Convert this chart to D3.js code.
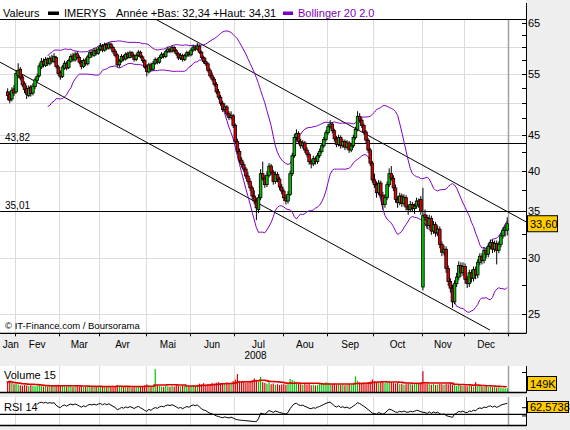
<!DOCTYPE html>
<html><head><meta charset="utf-8">
<script src="https://cdn.jsdelivr.net/npm/d3@7"></script>
<style>
body{margin:0;background:#eeeeee;}
svg{display:block;font-family:"Liberation Sans",Arial,sans-serif;}
</style>
</head><body>
<svg id="c" width="570" height="430"></svg>
<script>
// ---------------- DATA ----------------
const monthLabels = ["Jan","Fev","Mar","Avr","Mai","Jun","Jul","Aou","Sep","Oct","Nov","Dec"];
const monthTradingDays = [4,21,19,22,21,21,23,21,22,23,20,21];
const yearLabel = "2008";
const priceTicks = [65,55,45,40,35,30,25];
const priceMinorTicks = [65,62.5,60,57.5,55,52.5,50,47.5,45,42.5,40,37.5,35,32.5,30,27.5,25];
const priceGrid = [60,55,50,45,40,35,30,25];
const levels = [43.82, 35.01];
const rsiLast = 62.5738;
const rsiLevel = 30;
const rsiTicks = [50,25];
const volTicks = [750];

const open = [51.8,51.4,50.6,52.3,
51.8,54.6,55.8,54.4,53.2,52.4,51.2,52.6,51.6,52.7,53.8,54.6,56.2,57.3,56.5,57.7,56.8,57.9,57.2,58.0,56.2,
55.2,54.5,56.0,56.9,56.1,57.3,58.3,57.5,58.7,58.0,57.1,56.3,57.5,56.8,58.0,59.0,58.4,59.4,58.8,
59.5,60.2,59.4,60.5,59.8,60.6,59.9,59.2,58.5,56.6,57.3,58.2,57.7,58.7,58.0,58.9,58.3,57.6,58.4,59.0,58.1,57.4,
56.3,55.3,56.6,55.8,56.9,57.6,57.1,58.0,58.6,58.2,59.1,59.6,59.2,59.9,59.3,58.7,57.9,58.4,57.6,58.3,58.9,
58.5,59.4,60.0,59.6,60.2,59.0,58.0,57.2,56.8,55.6,54.6,54.0,53.1,51.8,50.9,49.9,48.9,49.3,48.2,47.6,47.9,
46.4,44.0,42.6,41.4,40.8,40.2,39.3,38.6,37.8,36.8,36.2,35.2,36.6,39.6,39.0,38.2,39.4,40.6,39.8,38.6,39.5,38.9,37.9,
37.4,36.6,36.2,37.0,39.6,42.0,44.6,45.2,44.0,43.4,43.8,42.8,42.2,41.2,40.9,41.6,41.2,42.0,42.6,43.4,44.3,
45.3,46.2,46.6,45.6,44.4,43.6,44.6,43.4,44.0,43.2,43.8,42.8,43.4,44.6,45.8,47.8,47.2,46.4,45.4,44.2,42.8,41.0,
38.8,38.2,37.2,38.4,36.9,35.8,36.6,38.2,39.6,39.0,37.8,36.4,36.0,36.8,35.9,36.6,35.5,35.2,35.8,35.3,35.6,36.2,36.4,
27.3,34.6,34.3,33.4,34.2,32.8,33.5,32.6,33.0,31.4,30.6,30.9,29.0,27.8,27.2,26.0,27.6,28.2,29.3,28.6,
29.2,28.0,27.6,28.6,28.1,28.9,28.4,29.6,30.2,29.8,30.8,30.4,31.2,31.6,30.9,31.5,30.8,31.4,32.3,32.9,32.9];

const high = [52.4,51.9,52.6,53.0,
55.6,56.9,56.2,54.9,53.6,52.9,52.9,53.0,53.3,54.3,55.0,56.9,57.9,57.8,58.1,58.0,58.3,58.5,58.8,58.3,56.6,
55.6,56.6,57.4,57.3,57.8,58.7,58.9,59.1,59.2,58.4,57.5,57.8,57.9,58.5,59.4,59.5,59.8,59.9,60.1,
60.8,60.6,60.9,60.8,61.0,60.9,60.3,59.6,58.8,57.7,58.6,58.5,59.0,59.1,59.3,59.2,58.6,58.8,59.4,59.3,58.4,57.7,
56.7,57.0,57.0,57.3,58.0,57.9,58.4,59.0,58.9,59.5,60.1,59.9,60.3,60.2,59.6,59.0,58.8,58.7,58.7,59.3,59.2,
59.8,60.5,60.3,60.8,60.5,59.3,58.3,57.9,57.1,56.0,55.2,54.4,53.5,52.3,51.3,50.3,49.9,49.6,48.6,48.6,48.2,
46.7,44.4,43.0,41.8,41.2,40.5,39.8,39.0,38.1,37.5,36.6,37.0,40.2,41.2,39.4,39.9,41.0,40.9,40.1,39.9,39.8,39.2,38.3,
37.7,37.0,37.4,40.0,42.4,45.1,45.8,45.5,44.4,44.2,44.1,43.2,42.5,41.5,42.0,41.9,42.4,43.0,43.8,44.7,45.7,
46.6,47.2,46.9,45.9,44.8,45.0,44.9,44.4,44.3,44.2,44.1,43.8,45.0,46.2,48.6,48.3,47.6,46.7,45.7,44.5,43.1,41.3,
39.6,38.6,38.8,38.7,37.3,37.0,38.6,40.3,40.6,39.4,38.2,36.8,37.2,37.1,37.0,36.9,35.8,36.2,36.1,35.9,36.6,36.5,36.8,
37.8,35.2,34.6,34.6,34.5,33.9,33.8,33.4,33.3,31.7,31.3,31.2,29.3,28.1,27.5,27.9,28.6,29.7,29.6,29.6,
29.5,28.3,28.9,28.9,29.2,29.2,29.9,30.5,30.5,31.1,31.1,31.5,31.9,31.9,31.8,31.8,31.7,32.6,33.2,33.5,34.31];

const low = [50.4,49.9,50.2,51.1,
51.5,54.2,53.8,52.6,51.6,50.6,50.9,51.0,51.2,52.3,53.3,54.3,55.8,56.1,56.2,56.4,56.5,56.9,56.9,55.9,54.6,
53.9,54.2,55.7,55.6,55.8,57.0,57.2,57.2,57.7,56.7,55.8,56.0,56.4,56.5,57.8,58.0,58.1,58.4,58.5,
59.2,59.0,59.1,59.4,59.5,59.5,58.7,58.0,56.2,56.1,57.0,57.3,57.4,57.7,57.8,57.9,57.2,57.3,58.1,57.8,57.0,55.9,
54.5,55.0,55.4,55.5,56.6,56.7,56.8,57.7,57.8,57.9,58.8,58.8,58.9,58.9,58.3,57.5,57.5,57.2,57.3,58.0,58.1,
58.2,59.1,59.2,59.3,58.7,57.6,56.8,56.4,55.2,54.2,53.6,52.7,51.4,50.5,49.5,48.5,48.5,47.8,47.2,47.3,46.0,
43.6,42.2,41.0,40.4,39.8,38.9,38.2,37.4,36.4,35.8,34.0,34.8,36.3,38.7,37.8,37.9,39.1,39.4,38.2,38.3,38.5,37.5,37.0,
36.2,35.8,35.9,36.8,39.3,41.7,44.2,43.6,43.0,43.0,42.4,41.8,40.8,40.3,40.6,40.8,40.9,41.7,42.3,43.1,44.0,
45.0,45.9,45.2,44.0,43.2,43.3,43.0,43.1,42.8,42.9,42.4,42.5,43.1,44.3,45.5,46.8,46.0,45.0,43.8,42.4,40.6,38.4,
37.8,36.6,36.9,36.5,35.2,35.4,36.3,37.9,38.7,37.4,36.0,35.4,35.7,35.5,35.6,35.1,34.6,34.9,34.9,34.7,35.3,35.4,34.6,
27.0,33.9,33.0,33.1,32.4,32.5,32.2,32.3,31.0,30.2,30.3,28.6,27.4,26.8,25.5,25.8,27.3,27.9,28.2,28.3,
27.6,27.2,27.3,27.7,27.8,28.0,28.1,29.3,29.4,29.5,30.0,30.1,30.9,30.5,30.6,29.4,30.5,31.1,32.0,32.2,32.34];

const close = [51.2,50.4,52.0,51.6,
55.0,55.6,54.2,53.0,52.2,51.4,52.4,51.5,52.8,53.9,54.5,56.4,57.2,56.6,57.6,56.9,57.8,57.3,58.2,56.3,55.0,
54.4,56.2,56.9,56.0,57.4,58.2,57.6,58.6,58.0,57.1,56.3,57.4,56.8,58.1,58.9,58.5,59.3,58.8,59.6,
60.2,59.4,60.4,59.8,60.6,59.9,59.1,58.4,56.6,57.3,58.2,57.7,58.6,58.0,58.9,58.3,57.6,58.4,59.0,58.1,57.4,56.2,
55.4,56.6,55.8,56.9,57.6,57.1,58.0,58.6,58.2,59.1,59.6,59.2,59.9,59.3,58.7,57.9,58.4,57.6,58.3,58.9,58.5,
59.4,60.0,59.6,60.2,59.0,58.0,57.2,56.8,55.6,54.6,54.0,53.1,51.8,50.9,49.9,48.9,49.3,48.2,47.6,47.9,46.4,
44.0,42.6,41.4,40.8,40.2,39.3,38.6,37.8,36.8,36.2,35.4,36.6,39.6,39.0,38.2,39.4,40.6,39.8,38.6,39.5,38.9,37.9,37.4,
36.6,36.2,37.0,39.6,42.0,44.6,45.2,44.0,43.4,43.8,42.8,42.2,41.2,40.9,41.6,41.2,42.0,42.6,43.4,44.3,45.3,
46.2,46.6,45.6,44.4,43.6,44.6,43.4,44.0,43.2,43.8,42.8,43.4,44.6,45.8,47.8,47.2,46.4,45.4,44.2,42.8,41.0,38.8,
38.2,37.2,38.4,36.9,35.8,36.6,38.2,39.6,39.0,37.8,36.4,36.0,36.8,35.9,36.6,35.5,35.2,35.8,35.3,35.6,36.2,35.8,35.0,
34.5,34.3,33.4,34.2,32.8,33.5,32.6,33.0,31.4,30.6,30.9,29.0,27.8,27.2,26.0,27.6,28.2,29.3,28.6,29.2,
28.0,27.6,28.6,28.1,28.9,28.4,29.6,30.2,29.8,30.8,30.4,31.2,31.6,30.9,31.5,30.8,31.4,32.3,32.9,33.2,33.6];

// volume, thousands of shares
const volume = [380,420,350,300,
330,290,260,240,270,250,230,260,240,220,250,270,230,210,240,220,250,230,260,240,280,
270,240,220,210,230,250,200,220,240,210,230,190,210,230,200,220,190,210,230,
220,200,230,190,240,210,200,230,270,220,200,190,210,230,200,180,210,190,220,200,230,260,
290,250,230,220,880,260,230,210,200,240,220,200,230,210,260,240,220,250,230,210,240,
230,260,240,280,320,300,340,280,310,290,350,330,360,380,340,310,330,360,310,340,420,
480,690,430,400,380,360,420,390,450,520,470,410,580,380,350,320,380,300,330,280,300,270,290,
300,280,320,500,460,420,380,340,300,280,320,290,310,260,280,250,270,300,320,340,380,
360,330,300,320,280,300,270,290,260,280,300,270,320,600,430,380,340,360,320,380,400,480,
420,380,360,400,380,340,360,420,380,350,330,360,300,320,280,300,340,310,290,320,350,330,360,
800,340,320,300,280,310,270,290,320,300,280,330,300,350,290,260,240,270,250,230,
240,220,260,230,210,380,250,230,210,200,230,190,210,180,200,170,190,160,150,140,149];

// trend lines [index, price]
const upperTrend = [[70, 65.8],[246, 33.8]];
const lowerTrend = [[-3.6, 57.1],[228.8, 23.7]];

// ---------------- CHART ----------------
const N = close.length;
const svg = d3.select("#c");
const fmt2 = v => d3.format(".2f")(v).replace(".", ",");
const PR = 526;            // right axis x
const MT = 19, MB = 333.3; // main panel top/bottom lines
const green = "#00c000", red = "#dd0000", purple = "#8000c0", gridC = "#dcdcdc";

const x = d3.scaleLinear().domain([0, N]).range([6.6, 508.3]);
const cx = i => x(i + 0.5);
const y = d3.scaleLog().domain([25, 65]).range([313.8, 22.7]);
const yV = d3.scaleLinear().domain([0, 1000]).range([392, 366]);
const yR = d3.scaleLinear().domain([0, 100]).range([424.2, 391.2]);

const bounds = [0];
monthTradingDays.forEach(d => bounds.push(bounds[bounds.length - 1] + d));

// panels
svg.append("rect").attr("x",0).attr("y",0).attr("width",PR).attr("height",MB).attr("fill","#fff");
svg.append("rect").attr("x",0).attr("y",366).attr("width",PR).attr("height",26).attr("fill","#fff");
svg.append("rect").attr("x",0).attr("y",397).attr("width",PR).attr("height",28).attr("fill","#fff");

// vertical grid in all panels
const vg = svg.append("g").attr("stroke", gridC).attr("stroke-width", 1);
bounds.slice(1, -1).forEach(b => {
  const xx = Math.round(x(b)) + 0.5;
  [[MT, MB], [366, 392], [397, 425]].forEach(([a, c]) =>
    vg.append("line").attr("x1",xx).attr("x2",xx).attr("y1",a).attr("y2",c));
});
// horizontal grid main
priceGrid.forEach(p => {
  const yy = Math.round(y(p)) + 0.5;
  svg.append("line").attr("x1",0).attr("x2",PR).attr("y1",yy).attr("y2",yy).attr("stroke",gridC);
});
// today line
const tx = Math.round(x(N)) + 0.5;
[[MT, MB], [366, 392], [397, 425]].forEach(([a, c]) =>
  svg.append("line").attr("x1",tx).attr("x2",tx).attr("y1",a).attr("y2",c).attr("stroke","#a0a0a0").attr("stroke-width",1.5));

// clip
svg.append("clipPath").attr("id","mc").append("rect").attr("x",0).attr("y",MT).attr("width",PR).attr("height",MB-MT);
const main = svg.append("g").attr("clip-path","url(#mc)");

// level lines
levels.forEach(l => {
  const yy = Math.round(y(l)) + 0.5;
  main.append("line").attr("x1",0).attr("x2",PR).attr("y1",yy).attr("y2",yy).attr("stroke","#000");
  svg.append("text").attr("x",5).attr("y",yy-3).attr("font-size",10).text(fmt2(l));
});

// trend lines
[upperTrend, lowerTrend].forEach(t => {
  main.append("line").attr("x1",x(t[0][0]+0.5)).attr("y1",y(t[0][1]))
    .attr("x2",x(t[1][0]+0.5)).attr("y2",y(t[1][1])).attr("stroke","#000").attr("stroke-width",1);
});

// bollinger
const bbU = [], bbL = [];
for (let i = 19; i < N; i++) {
  const w = close.slice(i - 19, i + 1);
  const m = d3.mean(w);
  const sd = Math.sqrt(d3.mean(w, v => (v - m) * (v - m)));
  bbU.push([i, m + 2 * sd]); bbL.push([i, m - 2 * sd]);
}
const bbLine = d3.line().x(d => cx(d[0])).y(d => y(d[1]));
[bbU, bbL].forEach(b => main.append("path").attr("d", bbLine(b)).attr("fill","none").attr("stroke",purple).attr("stroke-width",1));

// candles
const cg = main.append("g");
d3.range(N).forEach(i => {
  const xc = cx(i);
  cg.append("line").attr("x1",xc).attr("x2",xc).attr("y1",y(high[i])).attr("y2",y(low[i])).attr("stroke","#000").attr("stroke-width",1);
});
d3.range(N).forEach(i => {
  const xc = cx(i);
  const t = y(Math.max(open[i], close[i])), b = y(Math.min(open[i], close[i]));
  cg.append("rect").attr("x",xc-1.3).attr("width",2.6).attr("y",t).attr("height",Math.max(1,b-t))
    .attr("fill", close[i] >= open[i] ? green : red).attr("stroke","#000").attr("stroke-width",0.8);
});

// main borders
svg.append("line").attr("x1",0).attr("x2",PR).attr("y1",MT+0.5).attr("y2",MT+0.5).attr("stroke","#000");
svg.append("line").attr("x1",0).attr("x2",PR+0.5).attr("y1",MB).attr("y2",MB).attr("stroke","#000").attr("stroke-width",1.3);
svg.append("line").attr("x1",PR+0.5).attr("x2",PR+0.5).attr("y1",3).attr("y2",MB).attr("stroke","#000");

// right price axis
priceMinorTicks.forEach(p => {
  const yy = Math.round(y(p)) + 0.5;
  svg.append("line").attr("x1",PR-4).attr("x2",PR).attr("y1",yy).attr("y2",yy).attr("stroke","#000");
});
priceTicks.forEach(p => {
  svg.append("text").attr("x",PR+2).attr("y",y(p)+4).attr("font-size",11).text(p);
});
// last value box
const yl = y(close[N-1]);
svg.append("rect").attr("x",PR+1.5).attr("y",yl-8).attr("width",30).attr("height",16).attr("fill","#ffcc00").attr("stroke","#000");
svg.append("text").attr("x",PR+4).attr("y",yl+4).attr("font-size",11).text(fmt2(close[N-1]));

// x axis
bounds.slice(1).forEach(b => {
  const xx = Math.round(x(b)) + 0.5;
  svg.append("line").attr("x1",xx).attr("x2",xx).attr("y1",MB).attr("y2",MB+3).attr("stroke","#000");
});
monthLabels.forEach((m, k) => {
  svg.append("text").attr("x",(x(bounds[k]) + x(bounds[k+1])) / 2).attr("y",348).attr("font-size",10)
    .attr("text-anchor","middle").text(m);
});
svg.append("text").attr("x",(x(bounds[6]) + x(bounds[7])) / 2 - 3).attr("y",359).attr("font-size",10).attr("text-anchor","middle").text(yearLabel);
svg.append("text").attr("x",5).attr("y",329).attr("font-size",9.5).text("\u00a9 IT-Finance.com / Boursorama");

// legend
svg.append("text").attr("x",3).attr("y",16.5).attr("font-size",11).text("Valeurs");
svg.append("rect").attr("x",48).attr("y",11.5).attr("width",11).attr("height",3.5).attr("fill","#000");
svg.append("text").attr("x",64).attr("y",16.5).attr("font-size",11).text("IMERYS");
svg.append("text").attr("x",116).attr("y",16.5).attr("font-size",11)
  .text("Ann\u00e9e +Bas: " + fmt2(low[N-1]) + " +Haut: " + fmt2(high[N-1]));
svg.append("rect").attr("x",283).attr("y",11.5).attr("width",10).attr("height",3.5).attr("fill",purple);
svg.append("text").attr("x",298).attr("y",16.5).attr("font-size",11).attr("fill",purple).text("Bollinger 20 2.0");

// ---------- volume panel ----------
const vgp = svg.append("g");
d3.range(N).forEach(i => {
  const up = i === 0 ? close[i] >= open[i] : close[i] >= close[i-1];
  vgp.append("rect").attr("x",cx(i)-0.6).attr("width",1.2).attr("y",yV(volume[i])).attr("height",392-yV(volume[i]))
    .attr("fill", up ? green : red);
});
const vma = d3.range(N).map(i => [i, d3.mean(volume.slice(Math.max(0, i-14), i+1))]);
vgp.append("path").attr("d", d3.line().curve(d3.curveStepAfter).x(d => x(d[0])).y(d => yV(d[1]))(vma))
  .attr("fill","none").attr("stroke",red).attr("stroke-width",1.5);
svg.append("text").attr("x",4).attr("y",378.5).attr("font-size",11).text("Volume 15");
svg.append("line").attr("x1",0).attr("x2",PR+0.5).attr("y1",392.5).attr("y2",392.5).attr("stroke","#000").attr("stroke-width",1.3);
svg.append("line").attr("x1",PR+0.5).attr("x2",PR+0.5).attr("y1",366).attr("y2",393).attr("stroke","#000");
volTicks.forEach(v => svg.append("line").attr("x1",PR-4).attr("x2",PR).attr("y1",yV(v)).attr("y2",yV(v)).attr("stroke","#000"));
svg.append("rect").attr("x",PR+1.5).attr("y",376.5).attr("width",29).attr("height",14).attr("fill","#ffcc00").attr("stroke","#000");
svg.append("text").attr("x",PR+4).attr("y",387.5).attr("font-size",11).text(volume[N-1] + "K");

// ---------- RSI panel ----------
const rsi = [];
let ag = 0, al = 0;
for (let i = 1; i < N; i++) {
  const ch = close[i] - close[i-1];
  const g = Math.max(ch, 0), l = Math.max(-ch, 0);
  if (i <= 14) { ag += g / 14; al += l / 14; if (i === 14) rsi.push([i, 100 - 100 / (1 + ag / al)]); }
  else { ag = (ag * 13 + g) / 14; al = (al * 13 + l) / 14; rsi.push([i, al === 0 ? 100 : 100 - 100 / (1 + ag / al)]); }
}
svg.append("clipPath").attr("id","rc").append("rect").attr("x",0).attr("y",397).attr("width",PR).attr("height",28);
svg.append("line").attr("x1",0).attr("x2",PR).attr("y1",yR(rsiLevel)).attr("y2",yR(rsiLevel)).attr("stroke","#000").attr("stroke-width",1.3);
svg.append("g").attr("clip-path","url(#rc)").append("path")
  .attr("d", d3.line().x(d => cx(d[0])).y(d => yR(d[1]))(rsi)).attr("fill","none").attr("stroke","#000").attr("stroke-width",1);
svg.append("text").attr("x",4).attr("y",410.5).attr("font-size",11).text("RSI 14");
svg.append("line").attr("x1",0).attr("x2",PR+0.5).attr("y1",425.5).attr("y2",425.5).attr("stroke","#000").attr("stroke-width",1.3);
svg.append("line").attr("x1",PR+0.5).attr("x2",PR+0.5).attr("y1",397).attr("y2",426).attr("stroke","#000");
rsiTicks.forEach(v => svg.append("line").attr("x1",PR-4).attr("x2",PR).attr("y1",yR(v)).attr("y2",yR(v)).attr("stroke","#000"));
svg.append("rect").attr("x",PR+1.5).attr("y",401.5).attr("width",41).attr("height",11).attr("fill","#ffcc00").attr("stroke","#000");
svg.append("text").attr("x",PR+4).attr("y",411).attr("font-size",11).text(d3.format(".4f")(rsiLast).replace(".", ","));
</script>
</body></html>
